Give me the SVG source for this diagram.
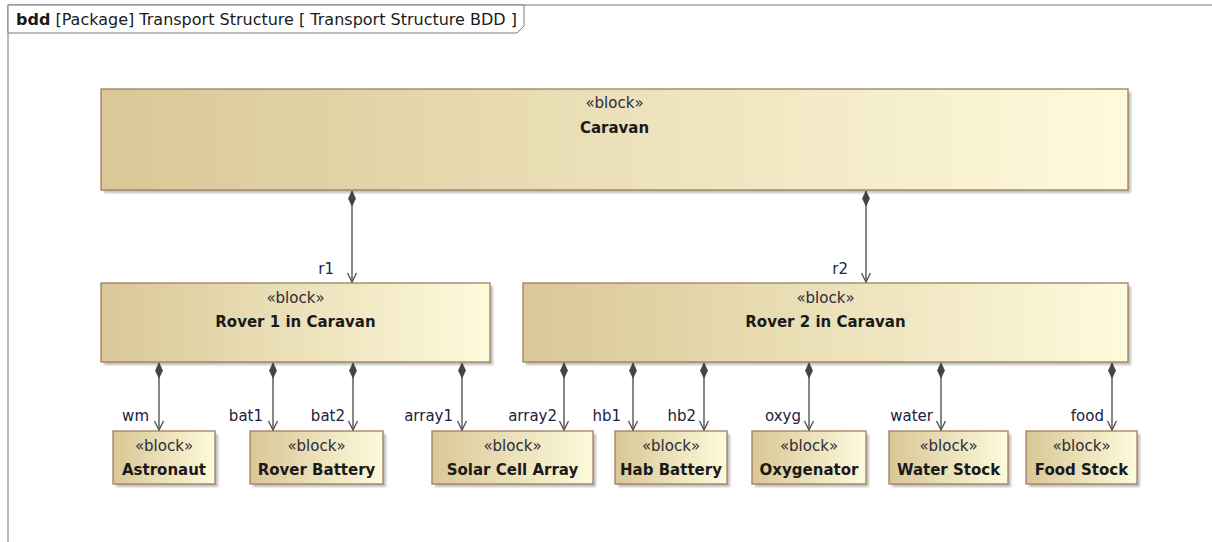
<svg xmlns="http://www.w3.org/2000/svg" width="1212" height="542" viewBox="0 0 1212 542">
<style>
.frame{fill:#ffffff;stroke:#7a7a7a;stroke-width:1}
.blk{fill:url(#g);stroke:#9e7e5c;stroke-width:1.3}
.sh{fill:#8a8a8a;opacity:.55;filter:url(#blur)}
.st{font-family:"DejaVu Sans",sans-serif;font-size:15px;fill:#2a2a3a;text-anchor:middle}
.nm{font-family:"DejaVu Sans",sans-serif;font-size:15px;font-weight:bold;fill:#1a1a1a;text-anchor:middle}
.lb{font-family:"DejaVu Sans",sans-serif;font-size:15px;fill:#202040;text-anchor:end}
.hd{font-family:"DejaVu Sans",sans-serif;font-size:16px;fill:#1a1a1a}
.cn{stroke:#555555;stroke-width:1.4;fill:none;marker-start:url(#dia);marker-end:url(#arr)}
</style>
<defs>
<linearGradient id="g" x1="0" y1="0" x2="1" y2="0">
<stop offset="0" stop-color="#d9c796"/>
<stop offset="1" stop-color="#fefadc"/>
</linearGradient>
<filter id="blur" x="-5%" y="-10%" width="110%" height="130%"><feGaussianBlur stdDeviation="1.2"/></filter>
<marker id="dia" markerUnits="userSpaceOnUse" viewBox="0 -4 16 8" refX="0" refY="0" markerWidth="16" markerHeight="8" orient="auto">
<path d="M0,0 L7.5,-3.5 L15,0 L7.5,3.5 Z" fill="#444444" stroke="#444444" stroke-width="0.8"/>
</marker>
<marker id="arr" markerUnits="userSpaceOnUse" viewBox="-10 -6 11 12" refX="0" refY="0" markerWidth="11" markerHeight="12" orient="auto">
<path d="M-9,-4.5 L0,0 L-9,4.5" fill="none" stroke="#555555" stroke-width="1.4"/>
</marker>
</defs>
<rect width="1212" height="542" fill="#ffffff"/>
<g id="frame">
<rect class="frame" x="8" y="5" width="1400" height="700"/>
<path class="frame" d="M8,5 L524,5 L524,26 L517,33 L8,33 Z"/>
<text class="hd" x="16" y="25"><tspan font-weight="bold">bdd</tspan> [Package] Transport Structure [ Transport Structure BDD ]</text>
</g>
<g id="caravan">
<rect class="sh" x="104" y="92" width="1027" height="101"/>
<rect class="blk" x="101" y="89" width="1027" height="101"/>
<text class="st" x="614.5" y="108">«block»</text>
<text class="nm" x="614.5" y="133">Caravan</text>
</g>
<g id="rover1">
<rect class="sh" x="104" y="286" width="389" height="79"/>
<rect class="blk" x="101" y="283" width="389" height="79"/>
<text class="st" x="295.5" y="303">«block»</text>
<text class="nm" x="295.5" y="327">Rover 1 in Caravan</text>
</g>
<g id="rover2">
<rect class="sh" x="526" y="286" width="605" height="79"/>
<rect class="blk" x="523" y="283" width="605" height="79"/>
<text class="st" x="825.5" y="303">«block»</text>
<text class="nm" x="825.5" y="327">Rover 2 in Caravan</text>
</g>
<g id="astronaut">
<rect class="sh" x="116" y="434" width="102" height="53"/>
<rect class="blk" x="113" y="431" width="102" height="53"/>
<text class="st" x="164" y="451">«block»</text>
<text class="nm" x="164" y="475">Astronaut</text>
</g>
<g id="roverBattery">
<rect class="sh" x="253" y="434" width="133" height="53"/>
<rect class="blk" x="250" y="431" width="133" height="53"/>
<text class="st" x="316.5" y="451">«block»</text>
<text class="nm" x="316.5" y="475">Rover Battery</text>
</g>
<g id="solarCellArray">
<rect class="sh" x="435" y="434" width="161" height="53"/>
<rect class="blk" x="432" y="431" width="161" height="53"/>
<text class="st" x="512.5" y="451">«block»</text>
<text class="nm" x="512.5" y="475">Solar Cell Array</text>
</g>
<g id="habBattery">
<rect class="sh" x="618" y="434" width="112" height="53"/>
<rect class="blk" x="615" y="431" width="112" height="53"/>
<text class="st" x="671" y="451">«block»</text>
<text class="nm" x="671" y="475">Hab Battery</text>
</g>
<g id="oxygenator">
<rect class="sh" x="755" y="434" width="114" height="53"/>
<rect class="blk" x="752" y="431" width="114" height="53"/>
<text class="st" x="809" y="451">«block»</text>
<text class="nm" x="809" y="475">Oxygenator</text>
</g>
<g id="waterStock">
<rect class="sh" x="892" y="434" width="119" height="53"/>
<rect class="blk" x="889" y="431" width="119" height="53"/>
<text class="st" x="948.5" y="451">«block»</text>
<text class="nm" x="948.5" y="475">Water Stock</text>
</g>
<g id="foodStock">
<rect class="sh" x="1029" y="434" width="111" height="53"/>
<rect class="blk" x="1026" y="431" width="111" height="53"/>
<text class="st" x="1081.5" y="451">«block»</text>
<text class="nm" x="1081.5" y="475">Food Stock</text>
</g>
<g id="connectors">
<path class="cn" d="M352,191 L352,282"/>
<path class="cn" d="M866,191 L866,282"/>
<path class="cn" d="M159,363 L159,430"/>
<path class="cn" d="M273,363 L273,430"/>
<path class="cn" d="M353,363 L353,430"/>
<path class="cn" d="M462,363 L462,430"/>
<path class="cn" d="M564,363 L564,430"/>
<path class="cn" d="M633,363 L633,430"/>
<path class="cn" d="M704,363 L704,430"/>
<path class="cn" d="M809,363 L809,430"/>
<path class="cn" d="M941,363 L941,430"/>
<path class="cn" d="M1112,363 L1112,430"/>
<text class="lb" x="334" y="274">r1</text>
<text class="lb" x="848" y="274">r2</text>
<text class="lb" x="149" y="421">wm</text>
<text class="lb" x="263" y="421">bat1</text>
<text class="lb" x="345" y="421">bat2</text>
<text class="lb" x="453" y="421">array1</text>
<text class="lb" x="557" y="421">array2</text>
<text class="lb" x="621" y="421">hb1</text>
<text class="lb" x="696" y="421">hb2</text>
<text class="lb" x="801" y="421">oxyg</text>
<text class="lb" x="933" y="421">water</text>
<text class="lb" x="1104" y="421">food</text>
</g>
</svg>
